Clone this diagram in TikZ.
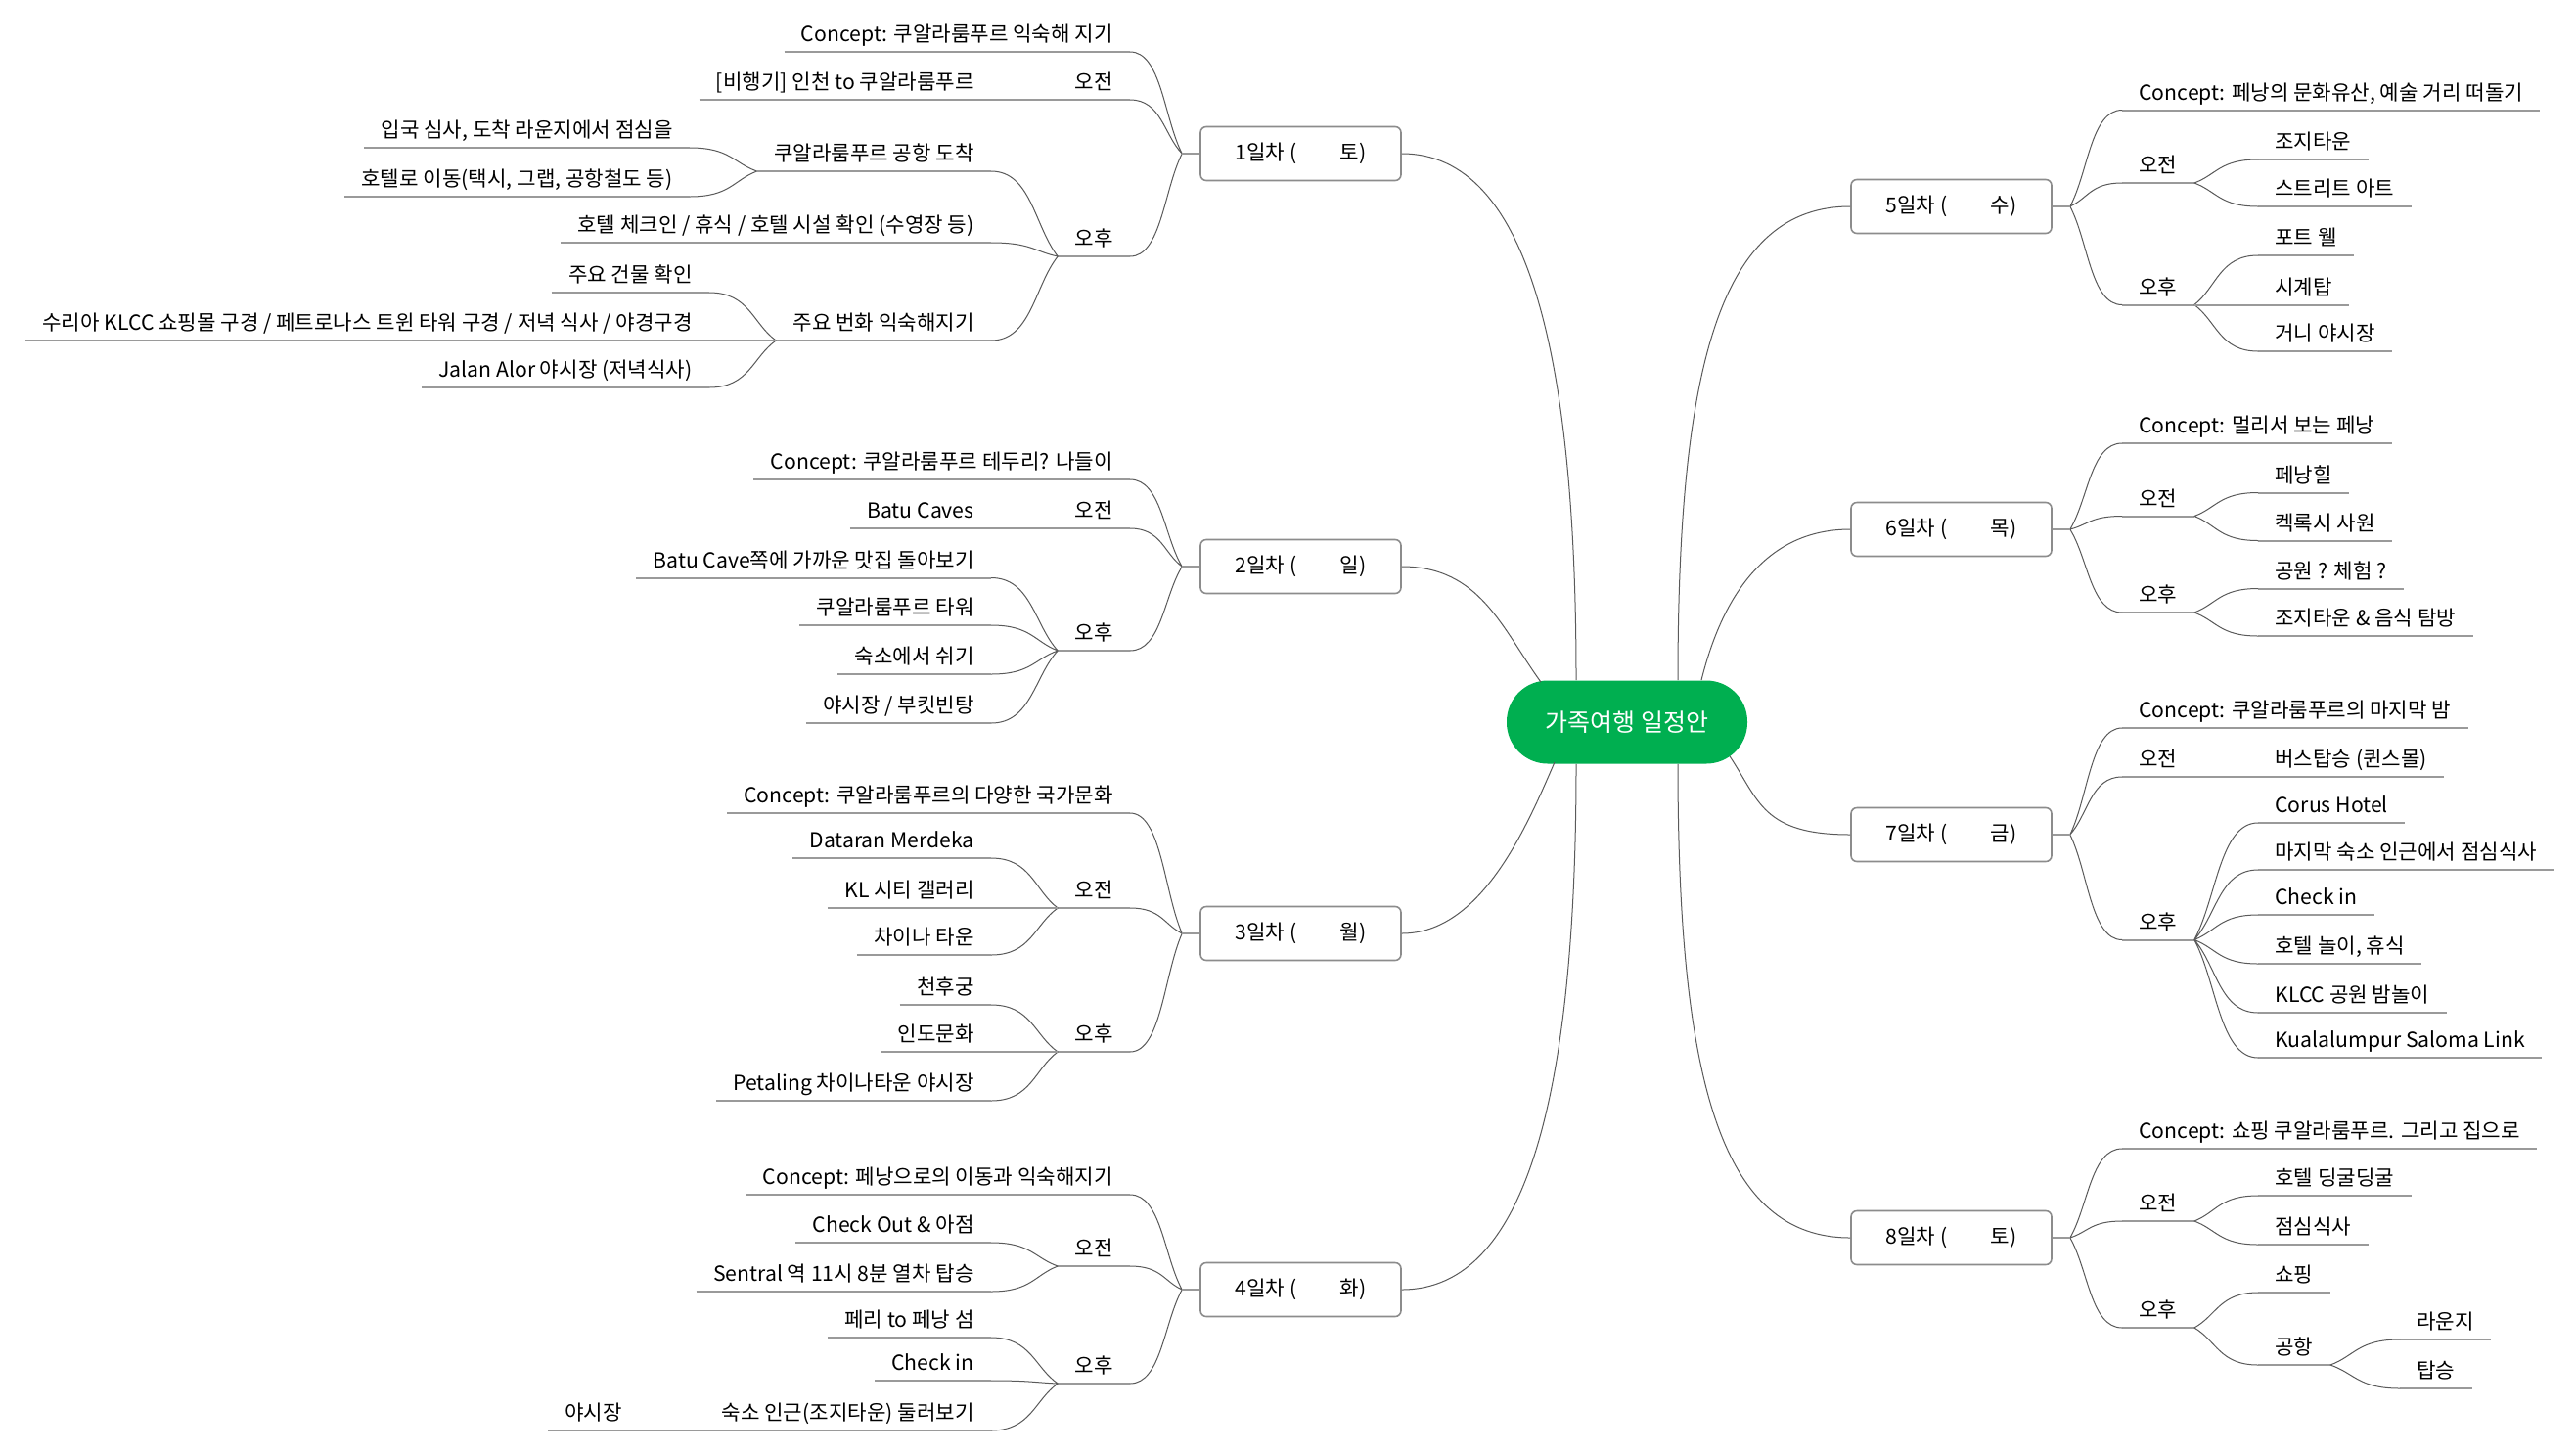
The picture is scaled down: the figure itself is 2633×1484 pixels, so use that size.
\documentclass[tikz,border=0pt]{standalone}
\usepackage{fontspec}
\setmainfont{Noto Sans CJK KR}
\usetikzlibrary{calc}
\definecolor{hubgreen}{HTML}{00AF50}
\definecolor{ulgray}{HTML}{9A9A9A}
\definecolor{lngray}{HTML}{5A5A5A}
\definecolor{boxgray}{HTML}{8C8C8C}
\tikzset{
	ul/.style={draw=ulgray,line width=1pt},
	ln/.style={draw=lngray,line width=0.5pt},
	ll/.style={anchor=south east,inner xsep=8.5pt,inner ysep=3.5pt,text height=7.5pt,text depth=1.5pt,
		append after command={(\tikzlastnode.south west) edge[ul] (\tikzlastnode.south east)}},
	rr/.style={ll,anchor=south west},
	lk/.style={ln,to path={.. controls ($(\tikztostart)!.35!(\tikztotarget)$) and ($(\tikztotarget)!.6!(\tikztostart|-\tikztotarget)$) .. (\tikztotarget)}},
	day/.style={draw=boxgray,line width=0.8pt,rounded corners=3pt,fill=white,minimum width=102.5pt,minimum height=27.5pt},
	hub/.style={fill=hubgreen,text=white,rounded corners=21pt,minimum width=123pt,minimum height=42.5pt,font=\fontsize{12.5}{14}\selectfont},
}
\begin{document}
\begin{tikzpicture}[x=0.5pt,y=-0.5pt,font=\fontsize{10.6}{12}\selectfont]
	\path[use as bounding box,fill=white] (0,0) rectangle (2633,1484);
	
	% center
	\node[hub] (hub) at (1663,738) {가족여행 일정안};
	
	% days
	\node[day] (d1) at (1329.5,157) {1일차 (\hspace{2.1em}토)};
	\node[day] (d2) at (1329.5,579) {2일차 (\hspace{2.1em}일)};
	\node[day] (d3) at (1329.5,954) {3일차 (\hspace{2.1em}월)};
	\node[day] (d4) at (1329.5,1318) {4일차 (\hspace{2.1em}화)};
	\node[day] (d5) at (1994.5,211) {5일차 (\hspace{2.1em}수)};
	\node[day] (d6) at (1994.5,541) {6일차 (\hspace{2.1em}목)};
	\node[day] (d7) at (1994.5,853) {7일차 (\hspace{2.1em}금)};
	\node[day] (d8) at (1994.5,1265) {8일차 (\hspace{2.1em}토)};
	\foreach \i in {1,...,4} \coordinate (k\i) at ([xshift=-9pt]d\i.west);
	\foreach \i in {5,...,8} \coordinate (k\i) at ([xshift=9pt]d\i.east);
	
	\draw[ln] (d1.east) .. controls +(130,0) and +(0,-330) .. ([xshift=-26pt]hub.north);
	\draw[ln] (d2.east) .. controls +(80,0) and +(-40,-55) .. ([xshift=-44pt,yshift=-1pt]hub.north);
	\draw[ln] (d3.east) .. controls +(80,0) and +(-30,70) .. ([xshift=-37pt,yshift=1pt]hub.south);
	\draw[ln] (d4.east) .. controls +(130,0) and +(0,330) .. ([xshift=-26pt]hub.south);
	\draw[ln] (d5.west) .. controls +(-130,0) and +(0,-330) .. ([xshift=26pt]hub.north);
	\draw[ln] (d6.west) .. controls +(-90,0) and +(20,-80) .. ([xshift=38pt]hub.north);
	\draw[ln] (d7.west) .. controls +(-90,0) and +(30,45) .. ([xshift=52.5pt,yshift=4pt]hub.south);
	\draw[ln] (d8.west) .. controls +(-130,0) and +(0,330) .. ([xshift=26pt]hub.south);
	
	% day 1
	\node[ll] (d1c) at (1155,53) {Concept: 쿠알라룸푸르 익숙해 지기};
	\node[ll] (d1am) at (1155,102) {오전};
	\node[ll] (d1am1) at (1013,102) {[비행기] 인천 to 쿠알라룸푸르};
	\node[ll] (d1pm) at (1155,262) {오후};
	\node[ll] (d1pm1) at (1013,175) {쿠알라룸푸르 공항 도착};
	\node[ll] (d1pm11) at (705,151) {입국 심사, 도착 라운지에서 점심을};
	\node[ll] (d1pm12) at (705,201) {호텔로 이동(택시, 그랩, 공항철도 등)};
	\node[ll] (d1pm2) at (1013,248) {호텔 체크인 / 휴식 / 호텔 시설 확인 (수영장 등)};
	\node[ll] (d1pm3) at (1013,348) {주요 번화 익숙해지기};
	\node[ll] (d1pm31) at (725,299) {주요 건물 확인};
	\node[ll] (d1pm32) at (725,348) {수리아 KLCC 쇼핑몰 구경 / 페트로나스 트윈 타워 구경 / 저녁 식사 / 야경구경};
	\node[ll] (d1pm33) at (725,396) {Jalan Alor 야시장 (저녁식사)};
	\draw[lk] (k1) to (d1c.south east) (k1) to (d1am.south east) (k1) to (d1pm.south east)
		(d1pm.south west) to (d1pm1.south east) (d1pm.south west) to (d1pm2.south east) (d1pm.south west) to (d1pm3.south east)
		(d1pm1.south west) to (d1pm11.south east) (d1pm1.south west) to (d1pm12.south east)
		(d1pm3.south west) to (d1pm31.south east) (d1pm3.south west) to (d1pm33.south east);
	\draw[ul] (d1.west) -- (k1) (d1am.south west) -- (d1am1.south east) (d1pm3.south west) -- (d1pm32.south east);
	
	% day 2
	\node[ll] (d2c) at (1155,490) {Concept: 쿠알라룸푸르 테두리? 나들이};
	\node[ll] (d2am) at (1155,540) {오전};
	\node[ll] (d2am1) at (1013,540) {Batu Caves};
	\node[ll] (d2pm) at (1155,665) {오후};
	\node[ll] (d2pm1) at (1013,590.5) {Batu Cave쪽에 가까운 맛집 돌아보기};
	\node[ll] (d2pm2) at (1013,639) {쿠알라룸푸르 타워};
	\node[ll] (d2pm3) at (1013,689) {숙소에서 쉬기};
	\node[ll] (d2pm4) at (1013,739) {야시장 / 부킷빈탕};
	\draw[lk] (k2) to (d2c.south east) (k2) to (d2am.south east) (k2) to (d2pm.south east)
		(d2pm.south west) to (d2pm1.south east) (d2pm.south west) to (d2pm2.south east)
		(d2pm.south west) to (d2pm3.south east) (d2pm.south west) to (d2pm4.south east);
	\draw[ul] (d2.west) -- (k2) (d2am.south west) -- (d2am1.south east);
	
	% day 3
	\node[ll] (d3c) at (1155,831) {Concept: 쿠알라룸푸르의 다양한 국가문화};
	\node[ll] (d3am) at (1155,928) {오전};
	\node[ll] (d3am1) at (1013,877) {Dataran Merdeka};
	\node[ll] (d3am2) at (1013,928) {KL 시티 갤러리};
	\node[ll] (d3am3) at (1013,976) {차이나 타운};
	\node[ll] (d3pm) at (1155,1075) {오후};
	\node[ll] (d3pm1) at (1013,1027) {천후궁};
	\node[ll] (d3pm2) at (1013,1075) {인도문화};
	\node[ll] (d3pm3) at (1013,1125) {Petaling 차이나타운 야시장};
	\draw[lk] (k3) to (d3c.south east) (k3) to (d3am.south east) (k3) to (d3pm.south east)
		(d3am.south west) to (d3am1.south east) (d3am.south west) to (d3am3.south east)
		(d3pm.south west) to (d3pm1.south east) (d3pm.south west) to (d3pm3.south east);
	\draw[ul] (d3.west) -- (k3) (d3am.south west) -- (d3am2.south east) (d3pm.south west) -- (d3pm2.south east);
	
	% day 4
	\node[ll] (d4c) at (1155,1221) {Concept: 페낭으로의 이동과 익숙해지기};
	\node[ll] (d4am) at (1155,1294) {오전};
	\node[ll] (d4am1) at (1013,1270) {Check Out \& 아점};
	\node[ll] (d4am2) at (1013,1320) {Sentral 역 11시 8분 열차 탑승};
	\node[ll] (d4pm) at (1155,1414) {오후};
	\node[ll] (d4pm1) at (1013,1367) {페리 to 페낭 섬};
	\node[ll] (d4pm2) at (1013,1411) {Check in};
	\node[ll] (d4pm3) at (1013,1462) {숙소 인근(조지타운) 둘러보기};
	\node[ll] (d4pm31) at (653,1462) {야시장};
	\draw[lk] (k4) to (d4c.south east) (k4) to (d4am.south east) (k4) to (d4pm.south east)
		(d4am.south west) to (d4am1.south east) (d4am.south west) to (d4am2.south east)
		(d4pm.south west) to (d4pm1.south east) (d4pm.south west) to (d4pm2.south east) (d4pm.south west) to (d4pm3.south east);
	\draw[ul] (d4.west) -- (k4) (d4pm3.south west) -- (d4pm31.south east);
	
	% day 5
	\node[rr] (d5c) at (2169,112.5) {Concept: 페낭의 문화유산, 예술 거리 떠돌기};
	\node[rr] (d5am) at (2169,187) {오전};
	\node[rr] (d5am1) at (2308,163) {조지타운};
	\node[rr] (d5am2) at (2308,211) {스트리트 아트};
	\node[rr] (d5pm) at (2169,311.5) {오후};
	\node[rr] (d5pm1) at (2308,261) {포트 웰};
	\node[rr] (d5pm2) at (2308,311.5) {시계탑};
	\node[rr] (d5pm3) at (2308,359) {거니 야시장};
	\draw[lk] (k5) to (d5c.south west) (k5) to (d5am.south west) (k5) to (d5pm.south west)
		(d5am.south east) to (d5am1.south west) (d5am.south east) to (d5am2.south west)
		(d5pm.south east) to (d5pm1.south west) (d5pm.south east) to (d5pm3.south west);
	\draw[ul] (d5.east) -- (k5) (d5pm.south east) -- (d5pm2.south west);
	
	% day 6
	\node[rr] (d6c) at (2169,453) {Concept: 멀리서 보는 페낭};
	\node[rr] (d6am) at (2169,527.5) {오전};
	\node[rr] (d6am1) at (2308,503.5) {페낭힐};
	\node[rr] (d6am2) at (2308,552.5) {켁록시 사원};
	\node[rr] (d6pm) at (2169,626) {오후};
	\node[rr] (d6pm1) at (2308,601.5) {공원 ? 체험 ?};
	\node[rr] (d6pm2) at (2308,650) {조지타운 \& 음식 탐방};
	\draw[lk] (k6) to (d6c.south west) (k6) to (d6am.south west) (k6) to (d6pm.south west)
		(d6am.south east) to (d6am1.south west) (d6am.south east) to (d6am2.south west)
		(d6pm.south east) to (d6pm1.south west) (d6pm.south east) to (d6pm2.south west);
	\draw[ul] (d6.east) -- (k6);
	
	% day 7
	\node[rr] (d7c) at (2169,744) {Concept: 쿠알라룸푸르의 마지막 밤};
	\node[rr] (d7am) at (2169,794) {오전};
	\node[rr] (d7am1) at (2308,794) {버스탑승 (퀸스몰)};
	\node[rr] (d7pm) at (2169,960.5) {오후};
	\node[rr] (d7pm1) at (2308,841) {Corus Hotel};
	\node[rr] (d7pm2) at (2308,889) {마지막 숙소 인근에서 점심식사};
	\node[rr] (d7pm3) at (2308,935) {Check in};
	\node[rr] (d7pm4) at (2308,985) {호텔 놀이, 휴식};
	\node[rr] (d7pm5) at (2308,1035) {KLCC 공원 밤놀이};
	\node[rr] (d7pm6) at (2308,1081) {Kualalumpur Saloma Link};
	\draw[lk] (k7) to (d7c.south west) (k7) to (d7am.south west) (k7) to (d7pm.south west)
		(d7pm.south east) to (d7pm1.south west) (d7pm.south east) to (d7pm2.south west) (d7pm.south east) to (d7pm3.south west)
		(d7pm.south east) to (d7pm4.south west) (d7pm.south east) to (d7pm5.south west) (d7pm.south east) to (d7pm6.south west);
	\draw[ul] (d7.east) -- (k7) (d7am.south east) -- (d7am1.south west);
	
	% day 8
	\node[rr] (d8c) at (2169,1174) {Concept: 쇼핑 쿠알라룸푸르. 그리고 집으로};
	\node[rr] (d8am) at (2169,1248) {오전};
	\node[rr] (d8am1) at (2308,1222) {호텔 딩굴딩굴};
	\node[rr] (d8am2) at (2308,1272) {점심식사};
	\node[rr] (d8pm) at (2169,1357) {오후};
	\node[rr] (d8pm1) at (2308,1321) {쇼핑};
	\node[rr] (d8pm2) at (2308,1395) {공항};
	\node[rr] (d8pm21) at (2453,1369) {라운지};
	\node[rr] (d8pm22) at (2453,1419) {탑승};
	\draw[lk] (k8) to (d8c.south west) (k8) to (d8am.south west) (k8) to (d8pm.south west)
		(d8am.south east) to (d8am1.south west) (d8am.south east) to (d8am2.south west)
		(d8pm.south east) to (d8pm1.south west) (d8pm.south east) to (d8pm2.south west)
		(d8pm2.south east) to (d8pm21.south west) (d8pm2.south east) to (d8pm22.south west);
	\draw[ul] (d8.east) -- (k8);
	
\end{tikzpicture}
\end{document}
